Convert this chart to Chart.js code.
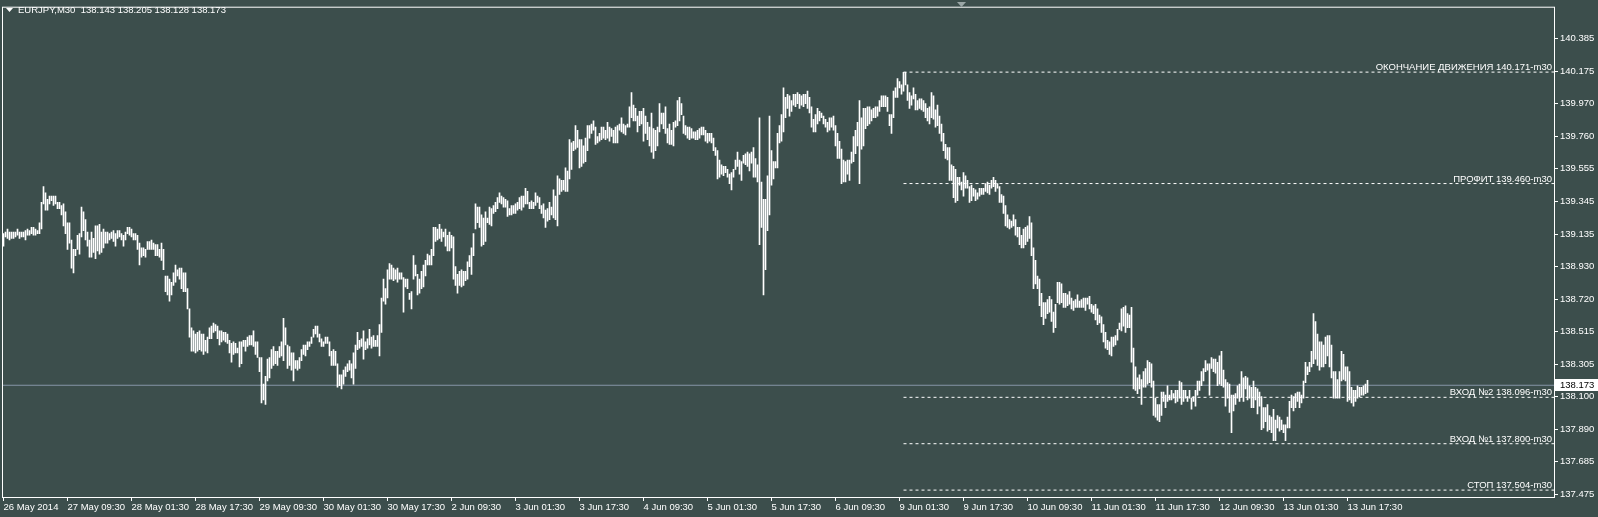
<!DOCTYPE html>
<html>
<head>
<meta charset="utf-8">
<script src="https://cdn.jsdelivr.net/npm/chart.js@4.4.0/dist/chart.umd.min.js"></script>
<style>
  html, body { margin: 0; padding: 0; background: #3c4e4c; overflow: hidden; }
  #wrap { width: 1598px; height: 517px; }
</style>
</head>
<body>
<div id="wrap"><canvas id="chart" width="1598" height="517"></canvas></div>
<script>
// EURJPY M30, bar highs / lows (26 May - 13 Jun 2014)
const highs = [
  139.14,139.15,139.17,139.15,139.15,139.15,139.15,139.17,139.15,139.15,139.15,139.16,139.17,139.16,139.18,139.18,139.17,139.16,139.21,139.34,
  139.44,139.40,139.36,139.38,139.38,139.38,139.38,139.34,139.34,139.32,139.33,139.28,139.21,139.21,139.10,139.04,139.04,139.13,139.14,139.31,
  139.28,139.23,139.15,139.10,139.15,139.11,139.19,139.19,139.20,139.15,139.17,139.15,139.15,139.14,139.15,139.16,139.14,139.16,139.16,139.14,
  139.13,139.15,139.18,139.18,139.17,139.14,139.14,139.13,139.08,139.05,139.05,139.04,139.09,139.09,139.10,139.08,139.07,139.07,139.04,139.08,
  139.04,138.87,138.87,138.85,138.83,138.89,138.94,138.91,138.92,138.92,138.89,138.89,138.79,138.66,138.54,138.52,138.50,138.51,138.52,138.50,
  138.50,138.46,138.48,138.54,138.55,138.57,138.56,138.55,138.52,138.52,138.51,138.51,138.50,138.46,138.44,138.45,138.44,138.41,138.45,138.45,
  138.46,138.46,138.48,138.49,138.49,138.52,138.45,138.45,138.35,138.35,138.18,138.23,138.34,138.35,138.40,138.42,138.39,138.39,138.42,138.45,
  138.60,138.54,138.43,138.42,138.38,138.38,138.33,138.33,138.35,138.40,138.43,138.43,138.45,138.45,138.48,138.53,138.55,138.55,138.50,138.47,
  138.45,138.48,138.48,138.45,138.39,138.40,138.39,138.31,138.24,138.24,138.27,138.29,138.31,138.33,138.31,138.38,138.43,138.51,138.46,138.47,
  138.52,138.45,138.47,138.53,138.48,138.49,138.46,138.49,138.56,138.73,138.85,138.79,138.91,138.95,138.94,138.92,138.91,138.92,138.89,138.89,
  138.86,138.85,138.85,138.76,138.77,139.00,138.94,138.88,138.85,138.90,138.94,138.97,139.01,139.00,139.04,139.18,139.18,139.17,139.20,139.17,
  139.15,139.17,139.13,139.15,139.13,139.12,138.93,138.88,138.90,138.91,138.90,138.90,138.96,139.00,139.05,139.14,139.33,139.31,139.31,139.26,
  139.24,139.28,139.24,139.31,139.30,139.32,139.34,139.37,139.40,139.38,139.37,139.36,139.35,139.30,139.32,139.32,139.33,139.34,139.37,139.38,
  139.38,139.43,139.41,139.34,139.35,139.34,139.40,139.38,139.37,139.32,139.33,139.29,139.30,139.34,139.31,139.42,139.38,139.51,139.49,139.48,
  139.48,139.56,139.54,139.74,139.72,139.73,139.83,139.80,139.74,139.74,139.70,139.75,139.83,139.83,139.84,139.86,139.82,139.76,139.78,139.82,
  139.82,139.80,139.85,139.82,139.81,139.80,139.82,139.83,139.84,139.88,139.84,139.83,139.84,139.95,140.04,139.96,139.94,139.89,139.92,139.92,
  139.94,139.89,139.85,139.82,139.91,139.81,139.80,139.82,139.97,139.91,139.91,139.95,139.81,139.84,139.80,139.85,139.86,139.99,140.01,139.97,
  139.89,139.83,139.82,139.82,139.81,139.79,139.79,139.80,139.81,139.82,139.82,139.80,139.78,139.78,139.78,139.75,139.69,139.67,139.61,139.58,
  139.57,139.57,139.55,139.52,139.53,139.55,139.61,139.66,139.61,139.60,139.64,139.65,139.66,139.65,139.66,139.69,139.62,139.58,139.88,139.47,
  139.36,139.36,139.51,139.89,139.67,139.60,139.60,139.78,139.83,139.90,140.07,140.01,140.03,140.02,139.99,140.03,140.03,140.04,140.03,140.02,
  140.03,140.03,140.05,140.01,139.95,139.87,139.90,139.94,139.92,139.91,139.89,139.87,139.85,139.88,139.88,139.89,139.83,139.78,139.73,139.68,
  139.61,139.60,139.61,139.61,139.66,139.76,139.80,139.85,139.99,139.88,139.94,139.94,139.95,139.95,139.93,139.94,139.95,139.95,139.99,140.02,
  140.02,140.02,140.01,139.90,139.90,140.05,140.07,140.13,140.11,140.09,140.17,140.17,140.09,140.04,140.02,140.07,140.03,139.99,140.00,140.00,
  139.99,139.97,139.94,139.95,140.04,140.02,139.93,139.96,139.89,139.84,139.78,139.71,139.69,139.69,139.58,139.57,139.55,139.50,139.50,139.47,
  139.53,139.51,139.48,139.44,139.45,139.43,139.42,139.40,139.43,139.43,139.43,139.46,139.47,139.45,139.48,139.50,139.48,139.46,139.44,139.39,
  139.38,139.32,139.26,139.23,139.22,139.26,139.23,139.18,139.18,139.13,139.17,139.18,139.19,139.25,139.21,139.05,138.97,138.87,138.85,138.76,
  138.70,138.70,138.72,138.74,138.72,138.64,138.69,138.83,138.83,138.82,138.76,138.76,138.75,138.77,138.73,138.71,138.72,138.75,138.71,138.72,
  138.73,138.73,138.73,138.74,138.69,138.68,138.69,138.66,138.62,138.61,138.56,138.51,138.46,138.45,138.48,138.48,138.49,138.53,138.57,138.66,
  138.67,138.68,138.63,138.62,138.67,138.41,138.29,138.22,138.24,138.21,138.26,138.28,138.33,138.32,138.31,138.20,138.09,138.05,138.05,138.13,
  138.13,138.11,138.17,138.11,138.14,138.12,138.14,138.14,138.20,138.19,138.14,138.14,138.10,138.14,138.09,138.10,138.14,138.20,138.20,138.26,
  138.28,138.33,138.31,138.31,138.35,138.34,138.34,138.32,138.36,138.39,138.27,138.21,138.19,138.18,138.11,138.11,138.12,138.17,138.18,138.26,
  138.22,138.23,138.22,138.17,138.16,138.20,138.16,138.15,138.13,138.10,138.03,138.03,138.05,137.98,137.97,138.02,137.95,137.98,137.97,137.95,
  137.92,137.92,137.97,138.07,138.11,138.10,138.12,138.13,138.13,138.11,138.20,138.32,138.29,138.32,138.39,138.63,138.58,138.50,138.45,138.45,
  138.43,138.48,138.49,138.49,138.43,138.26,138.26,138.21,138.26,138.39,138.37,138.29,138.29,138.26,138.16,138.14,138.14,138.17,138.16,138.16,
  138.17,138.18,138.205
];
const lows = [
  139.06,139.12,139.11,139.10,139.11,139.11,139.12,139.13,139.11,139.12,139.12,139.10,139.13,139.13,139.14,139.13,139.13,139.14,139.14,139.17,
  139.33,139.29,139.29,139.33,139.35,139.32,139.33,139.30,139.30,139.26,139.19,139.14,139.04,139.08,138.92,138.89,139.00,139.04,139.01,139.12,
  139.16,139.10,139.06,138.99,138.99,139.02,138.98,139.03,139.01,139.02,139.05,139.08,139.08,139.10,139.11,139.09,139.06,139.11,139.12,139.10,
  139.06,139.10,139.14,139.13,139.12,139.10,139.10,139.04,138.94,138.99,139.00,138.99,139.04,139.04,139.04,139.04,139.00,139.00,138.99,138.97,
  138.91,138.77,138.75,138.71,138.75,138.81,138.83,138.87,138.85,138.79,138.77,138.77,138.66,138.48,138.39,138.39,138.38,138.39,138.40,138.39,
  138.37,138.39,138.38,138.47,138.47,138.51,138.52,138.47,138.43,138.45,138.46,138.45,138.44,138.38,138.32,138.37,138.38,138.38,138.29,138.31,
  138.42,138.39,138.42,138.43,138.43,138.42,138.37,138.35,138.26,138.06,138.08,138.05,138.20,138.22,138.28,138.30,138.31,138.30,138.35,138.36,
  138.33,138.43,138.28,138.30,138.27,138.20,138.28,138.27,138.28,138.33,138.37,138.36,138.40,138.42,138.44,138.48,138.50,138.48,138.45,138.42,
  138.42,138.44,138.44,138.36,138.30,138.30,138.30,138.16,138.17,138.15,138.18,138.23,138.26,138.27,138.22,138.18,138.28,138.40,138.41,138.42,
  138.34,138.40,138.41,138.43,138.41,138.42,138.42,138.42,138.36,138.51,138.71,138.69,138.73,138.85,138.85,138.84,138.85,138.83,138.85,138.85,
  138.64,138.80,138.79,138.72,138.66,138.85,138.87,138.75,138.76,138.79,138.80,138.87,138.94,138.94,138.94,139.00,139.09,139.10,139.11,139.09,
  139.12,139.06,139.03,139.03,139.05,138.85,138.81,138.76,138.81,138.80,138.81,138.84,138.85,138.93,138.88,139.00,139.17,139.21,139.18,139.06,
  139.07,139.09,139.21,139.20,139.19,139.27,139.28,139.30,139.34,139.33,139.31,139.31,139.25,139.26,139.26,139.27,139.27,139.29,139.30,139.29,
  139.31,139.33,139.33,139.30,139.30,139.30,139.32,139.34,139.30,139.27,139.24,139.18,139.22,139.23,139.26,139.24,139.23,139.19,139.39,139.41,
  139.42,139.41,139.41,139.49,139.55,139.67,139.68,139.69,139.56,139.57,139.59,139.60,139.67,139.75,139.78,139.80,139.71,139.72,139.73,139.74,
  139.75,139.74,139.75,139.73,139.76,139.72,139.72,139.72,139.80,139.79,139.78,139.77,139.82,139.82,139.88,139.86,139.86,139.79,139.83,139.84,
  139.73,139.78,139.74,139.70,139.66,139.62,139.67,139.70,139.79,139.84,139.81,139.78,139.72,139.71,139.71,139.70,139.82,139.83,139.86,139.90,
  139.78,139.77,139.75,139.74,139.75,139.75,139.74,139.74,139.75,139.77,139.77,139.73,139.72,139.73,139.72,139.67,139.64,139.49,139.50,139.52,
  139.51,139.53,139.50,139.46,139.42,139.50,139.55,139.57,139.52,139.48,139.59,139.58,139.57,139.54,139.59,139.50,139.50,139.47,139.07,139.18,
  138.75,138.91,139.16,139.26,139.45,139.49,139.56,139.56,139.72,139.73,139.79,139.88,139.94,139.89,139.92,139.96,139.95,139.97,139.94,139.96,
  139.95,139.97,139.94,139.91,139.82,139.79,139.79,139.84,139.86,139.88,139.84,139.82,139.79,139.80,139.82,139.80,139.70,139.62,139.62,139.46,
  139.47,139.47,139.52,139.48,139.59,139.60,139.65,139.70,139.46,139.68,139.70,139.81,139.83,139.84,139.86,139.88,139.88,139.89,139.92,139.95,
  139.95,139.95,139.92,139.83,139.78,139.88,140.01,140.01,140.07,140.03,140.05,140.09,139.99,139.94,139.96,140.00,139.93,139.93,139.94,139.93,
  139.92,139.88,139.86,139.84,139.88,139.87,139.82,139.83,139.78,139.73,139.67,139.62,139.61,139.48,139.48,139.37,139.34,139.35,139.45,139.42,
  139.38,139.43,139.43,139.34,139.35,139.38,139.35,139.36,139.38,139.39,139.39,139.41,139.40,139.39,139.43,139.44,139.41,139.43,139.34,139.34,
  139.27,139.19,139.18,139.17,139.18,139.19,139.13,139.12,139.07,139.05,139.05,139.07,139.09,139.11,139.00,138.79,138.82,138.79,138.68,138.61,
  138.56,138.60,138.63,138.64,138.58,138.51,138.54,138.70,138.69,138.70,138.67,138.67,138.68,138.69,138.66,138.65,138.67,138.67,138.67,138.67,
  138.67,138.65,138.69,138.66,138.64,138.63,138.59,138.56,138.57,138.51,138.45,138.41,138.40,138.37,138.36,138.42,138.43,138.46,138.53,138.52,
  138.55,138.51,138.54,138.54,138.32,138.15,138.14,138.12,138.15,138.05,138.16,138.16,138.18,138.19,138.16,137.98,137.97,137.95,137.94,137.98,
  138.07,138.03,138.07,138.08,138.08,138.09,138.06,138.07,138.09,138.05,138.07,138.09,138.07,138.09,138.02,138.07,138.04,138.11,138.14,138.17,
  138.20,138.26,138.27,138.11,138.28,138.26,138.25,138.17,138.18,138.17,138.16,138.04,138.09,138.00,137.87,138.01,138.05,138.09,138.07,138.10,
  138.07,138.15,138.08,138.09,138.03,138.03,138.08,137.99,138.04,137.89,137.90,137.94,137.88,137.89,137.87,137.82,137.82,137.90,137.88,137.89,
  137.87,137.82,137.90,137.90,138.03,138.01,138.03,138.07,138.03,138.06,138.09,138.19,138.24,138.26,138.29,138.31,138.34,138.30,138.27,138.29,
  138.29,138.31,138.36,138.29,138.22,138.09,138.09,138.09,138.09,138.20,138.21,138.20,138.07,138.08,138.06,138.04,138.07,138.09,138.10,138.11,
  138.11,138.12,138.128
];

// one time label every 32 bars, starting at bar 0
const timeLabels = [
  '26 May 2014', '27 May 09:30', '28 May 01:30', '28 May 17:30', '29 May 09:30', '30 May 01:30',
  '30 May 17:30', '2 Jun 09:30', '3 Jun 01:30', '3 Jun 17:30', '4 Jun 09:30', '5 Jun 01:30',
  '5 Jun 17:30', '6 Jun 09:30', '9 Jun 01:30', '9 Jun 17:30', '10 Jun 09:30', '11 Jun 01:30',
  '11 Jun 17:30', '12 Jun 09:30', '13 Jun 01:30', '13 Jun 17:30'
];
const priceTicks = [
  140.385, 140.175, 139.970, 139.760, 139.555, 139.345, 139.135, 138.930,
  138.720, 138.515, 138.305, 138.100, 137.890, 137.685, 137.475
];

// trade levels drawn from bar 450 to the right edge
const levelNames = ['ОКОНЧАНИЕ ДВИЖЕНИЯ', 'ПРОФИТ', 'ВХОД №2', 'ВХОД №1', 'СТОП'];
const levelPrices = [140.171, 139.460, 138.096, 137.800, 137.504];
const levelStart = 450;

const symbol = 'EURJPY,M30';
const lastOHLC = [138.143, 138.205, 138.128, 138.173];
const lastPrice = 138.173;

if (highs.length !== lows.length) {
  throw new Error('highs ' + highs.length + ' / lows ' + lows.length);
}

const BG = '#3c4e4c';
const FG = '#ffffff';
const FONT = '"Liberation Sans", Arial, sans-serif';
const xMin = -0.75;
const xMax = 775.25;

Chart.defaults.font.family = FONT;
Chart.defaults.font.size = 9.5;
Chart.defaults.color = FG;

const bars = highs.map((h, i) => ({ x: i, y: [lows[i], h] }));

const levelSets = levelPrices.map((p) => ({
  type: 'line',
  data: [{ x: levelStart, y: p }, { x: xMax, y: p }],
  borderColor: FG,
  borderWidth: 1,
  borderDash: [3, 3],
  pointRadius: 0,
  order: 0
}));

const overlay = {
  id: 'overlay',
  beforeDraw(chart) {
    let ctx = chart.ctx;
    ctx.save();
    ctx.fillStyle = BG;
    ctx.fillRect(0, 0, chart.width, chart.height);
    ctx.restore();
  },
  afterDraw(chart) {
    let { ctx, chartArea, scales } = chart;
    let y = scales.y;
    ctx.save();

    // frame
    ctx.strokeStyle = FG;
    ctx.lineWidth = 1;
    ctx.strokeRect(chartArea.left + 0.5, chartArea.top - 0.5, chartArea.right - chartArea.left, chartArea.bottom - chartArea.top + 1);

    // level captions
    ctx.font = '9.5px ' + FONT;
    ctx.fillStyle = FG;
    ctx.textAlign = 'right';
    ctx.textBaseline = 'alphabetic';
    levelPrices.forEach((p, k) => {
      let py = y.getPixelForValue(p);
      ctx.fillText(levelNames[k] + ' ' + p.toFixed(3) + '-m30', chartArea.right - 2, py - 2);
    });

    // current price tag
    let py = Math.round(y.getPixelForValue(lastPrice));
    ctx.fillStyle = '#ffffff';
    ctx.fillRect(chartArea.right + 1, py - 6, chart.width - chartArea.right - 1, 12);
    ctx.fillStyle = '#000000';
    ctx.textAlign = 'left';
    ctx.textBaseline = 'middle';
    ctx.fillText(lastPrice.toFixed(3), chartArea.right + 6, py + 0.5);

    // title
    ctx.fillStyle = FG;
    ctx.beginPath();
    ctx.moveTo(6, 8);
    ctx.lineTo(13, 8);
    ctx.lineTo(9.5, 12);
    ctx.closePath();
    ctx.fill();
    ctx.fillText(symbol + '  ' + lastOHLC.map((v) => v.toFixed(3)).join(' '), 18, 10.5);

    // chart shift marker
    ctx.fillStyle = '#9aa6a6';
    ctx.beginPath();
    ctx.moveTo(957, 2);
    ctx.lineTo(966, 2);
    ctx.lineTo(961.5, 7);
    ctx.closePath();
    ctx.fill();

    ctx.restore();
  }
};

new Chart(document.getElementById('chart'), {
  type: 'bar',
  data: {
    datasets: [
      {
        type: 'bar',
        data: bars,
        backgroundColor: FG,
        borderWidth: 0,
        barThickness: 1,
        order: 1
      },
      ...levelSets,
      {
        type: 'line',
        data: [{ x: xMin, y: lastPrice }, { x: xMax, y: lastPrice }],
        borderColor: '#8595a6',
        borderWidth: 1,
        pointRadius: 0,
        order: 2
      }
    ]
  },
  options: {
    responsive: false,
    animation: false,
    events: [],
    layout: { padding: { left: 2, top: 2, right: 0, bottom: 0 } },
    plugins: { legend: { display: false }, tooltip: { enabled: false } },
    scales: {
      x: {
        type: 'linear',
        offset: false,
        min: xMin,
        max: xMax,
        afterBuildTicks: (s) => { s.ticks = timeLabels.map((_, k) => ({ value: k * 32 })); },
        afterFit: (s) => { s.height = 20; },
        grid: { offset: false, drawOnChartArea: false, drawTicks: true, tickLength: 4, color: FG, tickColor: FG },
        border: { display: false },
        ticks: {
          autoSkip: false,
          maxRotation: 0,
          minRotation: 0,
          align: 'start',
          padding: 1,
          color: FG,
          callback: (v) => timeLabels[Math.round(v / 32)]
        }
      },
      y: {
        type: 'linear',
        position: 'right',
        min: 137.460,
        max: 140.582,
        afterBuildTicks: (s) => { s.ticks = priceTicks.map((v) => ({ value: v })); },
        afterFit: (s) => { s.width = 44; },
        grid: { drawOnChartArea: false, drawTicks: true, tickLength: 4, color: FG, tickColor: FG },
        border: { display: false },
        ticks: {
          padding: 2,
          color: FG,
          callback: (v) => v.toFixed(3)
        }
      }
    }
  },
  plugins: [overlay]
});
</script>
</body>
</html>
